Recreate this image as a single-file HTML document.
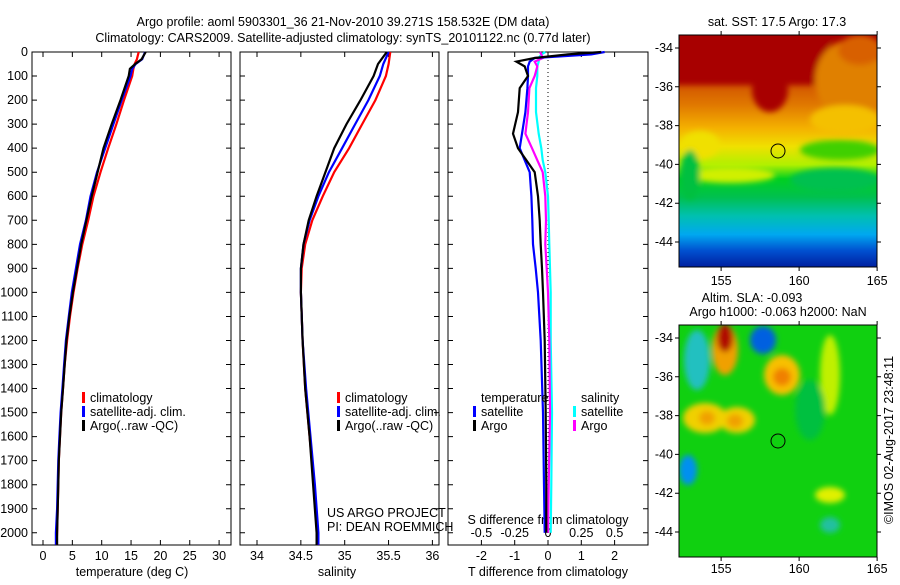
<!DOCTYPE html>
<html><head><meta charset="utf-8"><style>
body{margin:0;background:#fff;width:900px;height:580px;overflow:hidden}
svg{font-family:"Liberation Sans",sans-serif;font-size:12.5px}
</style></head><body>
<svg id="c" width="900" height="580" xmlns="http://www.w3.org/2000/svg">
<defs>
<linearGradient id="sstg" x1="0" y1="0" x2="0" y2="1">
<stop offset="0" stop-color="#a80000"/><stop offset="0.12" stop-color="#a80000"/>
<stop offset="0.2" stop-color="#d05000"/><stop offset="0.3" stop-color="#e07800"/>
<stop offset="0.4" stop-color="#f4b000"/><stop offset="0.48" stop-color="#f0e000"/>
<stop offset="0.56" stop-color="#b0f000"/><stop offset="0.62" stop-color="#00d020"/>
<stop offset="0.7" stop-color="#00c050"/><stop offset="0.78" stop-color="#00c0b0"/>
<stop offset="0.86" stop-color="#00a8f0"/>
<stop offset="0.93" stop-color="#0050d0"/><stop offset="1" stop-color="#0020a0"/>
</linearGradient>
<filter id="bl" x="-50%" y="-50%" width="200%" height="200%"><feGaussianBlur stdDeviation="3"/></filter>
<clipPath id="m1"><rect x="679" y="35" width="198" height="232"/></clipPath>
<clipPath id="m2"><rect x="679" y="325" width="198" height="232"/></clipPath>
</defs>
<text x="343" y="26" text-anchor="middle">Argo profile: aoml 5903301_36 21-Nov-2010 39.271S 158.532E (DM data)</text>
<text x="343" y="42" text-anchor="middle">Climatology: CARS2009. Satellite-adjusted climatology: synTS_20101122.nc (0.77d later)</text>

<g clip-path="url(#m1)">
<rect x="679" y="35" width="198" height="232" fill="url(#sstg)"/>
<g filter="url(#bl)">
<rect x="670" y="30" width="160" height="55" fill="#a80000"/>
<ellipse cx="770" cy="90" rx="18" ry="22" fill="#a80000"/>
<ellipse cx="850" cy="80" rx="35" ry="40" fill="#e08000"/>
<ellipse cx="860" cy="50" rx="22" ry="15" fill="#d86000"/>
<ellipse cx="845" cy="120" rx="35" ry="15" fill="#f4c000"/>
<ellipse cx="700" cy="145" rx="20" ry="14" fill="#f0e000"/>
<ellipse cx="730" cy="175" rx="45" ry="8" fill="#d0f000"/>
<ellipse cx="840" cy="150" rx="40" ry="10" fill="#40d000"/>
<ellipse cx="835" cy="180" rx="45" ry="12" fill="#00c050"/>
<ellipse cx="690" cy="175" rx="10" ry="25" fill="#00c040"/>
</g>
</g>
<rect x="679" y="35" width="198" height="232" fill="none" stroke="#000"/>
<g clip-path="url(#m2)">
<rect x="679" y="325" width="198" height="232" fill="#10d010"/>
<g filter="url(#bl)">
<ellipse cx="725" cy="350" rx="13" ry="25" fill="#f0a000"/>
<ellipse cx="725" cy="338" rx="8" ry="14" fill="#b01000"/>
<ellipse cx="763" cy="340" rx="13" ry="14" fill="#0060e0"/>
<ellipse cx="697" cy="360" rx="13" ry="30" fill="#20c0c0"/>
<ellipse cx="782" cy="375" rx="18" ry="20" fill="#f8c000"/>
<ellipse cx="782" cy="377" rx="9" ry="9" fill="#f08000"/>
<ellipse cx="705" cy="418" rx="22" ry="15" fill="#f0d000"/>
<ellipse cx="737" cy="420" rx="18" ry="13" fill="#f0d000"/>
<ellipse cx="707" cy="418" rx="8" ry="7" fill="#f0a000"/>
<ellipse cx="735" cy="421" rx="8" ry="7" fill="#f0a000"/>
<ellipse cx="830" cy="375" rx="10" ry="40" fill="#c0f000"/>
<ellipse cx="688" cy="470" rx="9" ry="15" fill="#0090f0"/>
<ellipse cx="830" cy="525" rx="10" ry="8" fill="#20c0a0"/>
<ellipse cx="830" cy="495" rx="15" ry="8" fill="#e0f000"/>
<ellipse cx="810" cy="410" rx="15" ry="30" fill="#00c040"/>
</g>
</g>
<rect x="679" y="325" width="198" height="232" fill="none" stroke="#000"/>
<circle cx="778" cy="151" r="7" fill="none" stroke="#000"/>
<circle cx="778" cy="441" r="7" fill="none" stroke="#000"/>
<text x="777" y="26" text-anchor="middle">sat. SST: 17.5 Argo: 17.3</text>
<text x="752" y="302" text-anchor="middle">Altim. SLA: -0.093</text>
<text x="778" y="316" text-anchor="middle">Argo h1000: -0.063 h2000: NaN</text>
<text transform="translate(893,440) rotate(-90)" text-anchor="middle">©IMOS 02-Aug-2017 23:48:11</text>
<g id="g"></g>
</svg>
<script>
// ---- data ----
const depthT=[0,30,50,70,100,200,300,400,500,600,700,800,900,1000,1100,1200,1300,1400,1500,1600,1700,1800,1900,2000,2050];
const tempClim=[16.3,16.0,15.6,15.4,15.2,13.8,12.5,11.1,9.8,8.6,7.7,6.7,5.9,5.2,4.6,4.1,3.7,3.4,3.1,2.9,2.7,2.6,2.5,2.4,2.3];
const tempSat=[17.4,16.9,15.8,15.2,14.9,13.4,12.0,10.6,9.2,8.1,7.3,6.3,5.6,4.9,4.4,3.9,3.6,3.3,3.0,2.8,2.6,2.5,2.4,2.2,2.2];
const tempArgo=[17.5,16.8,15.7,14.8,14.6,13.2,11.7,10.3,9.3,8.3,7.4,6.5,5.8,5.1,4.5,4.0,3.7,3.4,3.1,2.9,2.7,2.6,2.5,2.4,2.4];
const depthS=[0,50,100,200,300,400,500,600,700,800,900,1000,1200,1400,1600,1800,2000,2050];
const salClim=[35.52,35.5,35.47,35.35,35.2,35.05,34.88,34.75,34.63,34.55,34.51,34.5,34.52,34.55,34.6,34.65,34.69,34.7];
const salSat=[35.5,35.44,35.4,35.27,35.12,34.97,34.82,34.7,34.6,34.53,34.5,34.5,34.52,34.56,34.61,34.66,34.7,34.7];
const salArgo=[35.48,35.38,35.33,35.18,35.02,34.88,34.78,34.68,34.59,34.53,34.5,34.5,34.52,34.55,34.6,34.64,34.68,34.68];
const depthD=[0,10,25,40,60,100,150,250,340,400,450,500,600,700,800,900,1000,1200,1500,1800,2000];
const dTsat=[1.7,1.3,-0.4,-0.55,-0.6,-0.6,-0.62,-0.68,-0.78,-0.85,-0.7,-0.55,-0.5,-0.47,-0.45,-0.37,-0.3,-0.22,-0.15,-0.12,-0.1];
const dTargo=[1.6,0.6,-0.4,-0.95,-0.7,-0.6,-0.85,-0.9,-1.05,-0.9,-0.65,-0.4,-0.3,-0.25,-0.22,-0.18,-0.15,-0.1,-0.07,-0.05,-0.05];
const dSsat=[-0.02,-0.05,-0.07,-0.07,-0.08,-0.08,-0.09,-0.09,-0.07,-0.05,-0.04,-0.02,0,0.005,0.01,0.015,0.02,0.02,0.03,0.025,0.02];
const dSargo=[-0.06,-0.05,-0.04,-0.1,-0.08,-0.1,-0.14,-0.15,-0.17,-0.12,-0.08,-0.04,-0.02,-0.015,-0.02,-0.01,0,0.01,0.015,0.005,0];
const depthTicks=[0,100,200,300,400,500,600,700,800,900,1000,1100,1200,1300,1400,1500,1600,1700,1800,1900,2000];
const tTicks=[0,5,10,15,20,25,30];
const sTicks=[34,34.5,35,35.5,36];
const dTTicks=[-2,-1,0,1,2];
const dSTicks=[-0.5,-0.25,0,0.25,0.5];
const latTicks=[-34,-36,-38,-40,-42,-44];
const lonTicks=[155,160,165];
// ---- scales ----
const Y0=52,Y1=545;
const yD=d=>Y0+d*0.2404;
const xT=t=>43+t*5.87;
const xS=s=>257+(s-34)*87.7;
const xDT=v=>548+v*33.3;
const xDS=v=>548+v*133.2;
const xLon=l=>679+(l-152.3)*15.6;
const yLat1=l=>48+(-34-l)*19.4;
const yLat2=l=>338+(-34-l)*19.4;
const g=document.getElementById('g');
const NS='http://www.w3.org/2000/svg';
function mk(t,a){const e=document.createElementNS(NS,t);for(const k in a)e.setAttribute(k,a[k]);g.appendChild(e);return e;}
function txt(x,y,s,anchor){const e=mk('text',{x:x,y:y,'text-anchor':anchor||'middle'});e.textContent=s;return e;}
function frame(x0,x1,name){
  const r=mk('rect',{x:x0,y:Y0,width:x1-x0,height:Y1-Y0,fill:'none',stroke:'#000'});
  
  
  depthTicks.forEach(d=>{
    const y=yD(d);
    const t=mk('path',{d:`M${x0},${y}h5M${x1},${y}h-5`,stroke:'#000'});
    
    
  });
}
function xticks(vals,f,name,labelY,fmt){
  vals.forEach(v=>{
    const x=f(v);
    const t=mk('path',{d:`M${x},${Y0}v5M${x},${Y1}v-5`,stroke:'#000'});
    
    
    const l=txt(x,labelY,fmt?fmt(v):String(v));
    
    
  });
}
function line(ds,vs,fx,color,name){
  let d='';ds.forEach((dd,i)=>{d+=(i?'L':'M')+fx(vs[i]).toFixed(1)+','+yD(dd).toFixed(1);});
  const p=mk('path',{d:d,fill:'none',stroke:color,'stroke-width':2.2});
  
  
}
// panel 1
frame(32,231,'temperature-panel-frame');
depthTicks.forEach(d=>{const l=txt(28,yD(d)+4,String(d),'end');
  
  });
xticks(tTicks,xT,'temperature-axis',560);
const xt1=txt(132,576,'temperature (deg C)');


line(depthT,tempClim,xT,'#f00','temp-climatology-line');
line(depthT,tempSat,xT,'#00f','temp-satellite-line');
line(depthT,tempArgo,xT,'#000','temp-argo-line');
// panel 2
frame(240,439,'salinity-panel-frame');
xticks(sTicks,xS,'salinity-axis',560);
const xt2=txt(337,576,'salinity');


line(depthS,salClim,xS,'#f00','sal-climatology-line');
line(depthS,salSat,xS,'#00f','sal-satellite-line');
line(depthS,salArgo,xS,'#000','sal-argo-line');
// panel 3
frame(448,648,'difference-panel-frame');
const z=mk('path',{d:`M548,${Y0}V${Y1}`,stroke:'#000','stroke-dasharray':'1,3'});


xticks(dTTicks,xDT,'t-diff-axis',560);
dSTicks.forEach(v=>{const l=txt(xDS(v),537,String(v));
  
  });
const st=txt(548,524,'S difference from climatology');


const tt=txt(548,576,'T difference from climatology');


line(depthD,dSsat,xDS,'#0ff','s-diff-satellite-line');
line(depthD,dSargo,xDS,'#f0f','s-diff-argo-line');
line(depthD,dTsat,xDT,'#00f','t-diff-satellite-line');
line(depthD,dTargo,xDT,'#000','t-diff-argo-line');
// legends
function legend(x,y,color,label,name){
  const r=mk('rect',{x:x,y:y-10,width:3,height:11,fill:color});
  
  
  const t=txt(x+8,y,label,'start');
  
  
}
[[32+50,'t'],[240+97,'s']].forEach(([x,k])=>{
  legend(x,402,'#f00','climatology','legend-climatology-'+k);
  legend(x,416,'#00f','satellite-adj. clim.','legend-satellite-'+k);
  legend(x,430,'#000','Argo(..raw -QC)','legend-argo-'+k);
});
const lt=txt(481,402,'temperature','start');


const ls=txt(581,402,'salinity','start');


legend(473,416,'#00f','satellite','legend-t-satellite');
legend(473,430,'#000','Argo','legend-t-argo');
legend(573,416,'#0ff','satellite','legend-s-satellite');
legend(573,430,'#f0f','Argo','legend-s-argo');
const c1=txt(327,517,'US ARGO PROJECT','start');


const c2=txt(327,531,'PI: DEAN ROEMMICH','start');


// map ticks
[[yLat1,35,267,285],[yLat2,325,557,573]].forEach(([fy,top,bot,ly],mi)=>{
  latTicks.forEach(l=>{const y=fy(l);
    const t=mk('path',{d:`M679,${y}h-4M877,${y}h4`,stroke:'#000'});
    
    
    const lb=txt(673,y+4,String(l),'end');
    
    });
  lonTicks.forEach(l=>{const x=xLon(l);
    const t=mk('path',{d:`M${x},${top}v-4M${x},${bot}v4`,stroke:'#000'});
    
    
    const lb=txt(x,ly,String(l));
    
    });
});
</script>
</body></html>
